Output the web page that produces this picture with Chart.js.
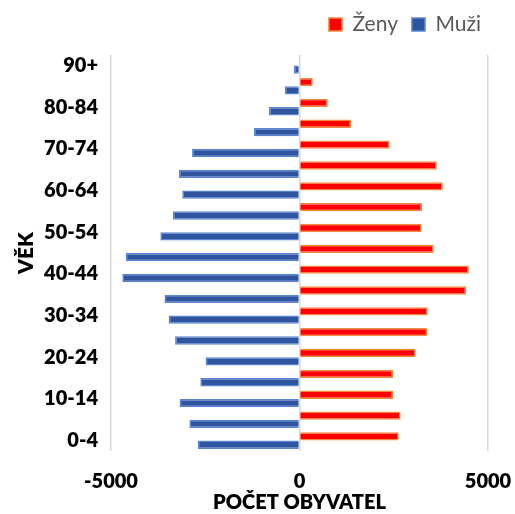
<!DOCTYPE html>
<html>
<head>
<meta charset="utf-8">
<script src="https://cdn.jsdelivr.net/npm/chart.js@4/dist/chart.umd.min.js"></script>
<style>
html,body{margin:0;padding:0;background:#fff;}
#wrap{width:515px;height:514px;position:relative;}
</style>
</head>
<body>
<div id="wrap"><canvas id="c" width="515" height="514"></canvas></div>
<script>
const categories = ['0-4','5-9','10-14','15-19','20-24','25-29','30-34','35-39','40-44','45-49','50-54','55-59','60-64','65-69','70-74','75-79','80-84','85-89','90+'];
const zeny = [2630, 2680, 2480, 2480, 3080, 3390, 3400, 4420, 4490, 3560, 3240, 3250, 3800, 3640, 2390, 1370, 750, 350, 0];
const muzi = [-2700, -2920, -3180, -2630, -2490, -3300, -3470, -3580, -4700, -4610, -3690, -3360, -3110, -3200, -2850, -1210, -810, -390, -150];
const xTicks = [-5000, 0, 5000];

const FONT = 'Lato';
const W = 800;

const legendHeightPlugin = {
  id: 'legendHeight',
  beforeInit(chart) {
    const origFit = chart.legend.fit;
    chart.legend.fit = function () {
      origFit.call(this);
      this.height += 10;
      if (this.lineWidths && this.lineWidths.length) this.lineWidths[0] += 20;
    };
  }
};

new Chart(document.getElementById('c'), {
  type: 'bar',
  plugins: [legendHeightPlugin],
  data: {
    labels: categories,
    datasets: [
      { label: 'Ženy', data: zeny, backgroundColor: '#FF0000', borderColor: '#F08A3C', borderWidth: 1.5,
        categoryPercentage: 0.8, barPercentage: 1.0 },
      { label: 'Muži', data: muzi, backgroundColor: '#2F55A0', borderColor: '#5B85D0', borderWidth: 1.5,
        categoryPercentage: 0.8, barPercentage: 1.0 }
    ]
  },
  options: {
    indexAxis: 'y',
    responsive: false,
    animation: false,
    layout: { padding: { left: 0, right: 0, top: 0, bottom: 0 } },
    plugins: {
      tooltip: { enabled: false },
      title: { display: false },
      legend: {
        display: true,
        position: 'top',
        align: 'end',
        labels: {
          boxWidth: 13, boxHeight: 13, padding: 14,
          color: '#595959',
          font: { family: FONT, size: 21, lineHeight: 1.0 }
        }
      }
    },
    scales: {
      x: {
        type: 'linear',
        min: -5000, max: 5000,
        afterBuildTicks(scale) { scale.ticks = xTicks.map(v => ({ value: v })); },
        afterFit(scale) { scale.height = 63; scale.paddingLeft = 0; scale.paddingRight = 27; },
        grid: { color: '#D9D9D9', lineWidth: 1.5, drawTicks: false },
        border: { display: false },
        ticks: { color: '#000', padding: 19, font: { family: FONT, size: 20, weight: W },
          callback: function (v) { return String(v); } },
        title: { display: true, text: 'POČET OBYVATEL', color: '#000',
          padding: { top: 0, bottom: 0 }, font: { family: FONT, size: 20, weight: W, lineHeight: 1.1 } }
      },
      y: {
        type: 'category',
        reverse: true,
        afterFit(scale) { scale.width = 111; },
        grid: { display: false, drawTicks: false },
        border: { display: false },
        ticks: {
          autoSkip: false, color: '#000', padding: 13,
          font: { family: FONT, size: 20, weight: W },
          callback: function (v, i) { return i % 2 === 0 ? this.getLabelForValue(v) : ''; }
        },
        title: { display: true, text: 'VĚK', color: '#000',
          padding: { top: 14, bottom: 0 }, font: { family: FONT, size: 21, weight: W, lineHeight: 1.2 } }
      }
    }
  }
});
</script>
</body>
</html>
